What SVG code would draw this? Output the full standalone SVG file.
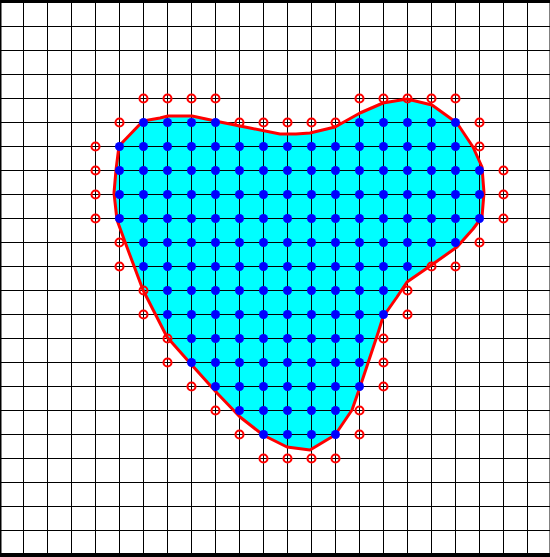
<svg xmlns="http://www.w3.org/2000/svg" width="550" height="557" viewBox="0 0 550 557">
<style>
.grid{stroke:#000;stroke-width:1;fill:none}
.border{stroke:#000;stroke-width:4;fill:none}
.region{fill:#00FFFF;stroke:none}
.curve{fill:none;stroke:#FF0000;stroke-width:3;stroke-linejoin:round}
.in circle{fill:#0000FF;stroke:none}
.out circle{fill:none;stroke:#FF0000;stroke-width:2.1}
</style>
<rect x="0" y="0" width="550" height="557" fill="#fff"/>
<g id="region-fill">
<path class="region" d="M143,121 L160,118 L168,116 L192,116 L220,122 L250,128 L280,134 L296,134 L310,133 L335,127 L360,113 L383,103 L407,99 L432,105 L457,123 L473,147 L482,167 L484,193 L482,217 L473,229 L457,247 L433,264 L407,282 L397,297 L383,317 L378,333 L368,363 L360,387 L352,410 L335,435 L310,450 L287,447 L263,435 L240,417 L217,393 L190,363 L167,337 L143,290 L128,250 L117,220 L114,193 L116,170 L119,146 Z"/>
</g>
<g id="grid">
<path class="grid" d="M23.5 0V557M47.5 0V557M71.5 0V557M95.5 0V557M119.5 0V557M143.5 0V557M167.5 0V557M191.5 0V557M215.5 0V557M239.5 0V557M263.5 0V557M287.5 0V557M311.5 0V557M335.5 0V557M359.5 0V557M383.5 0V557M407.5 0V557M431.5 0V557M455.5 0V557M479.5 0V557M503.5 0V557M527.5 0V557"/>
<path class="grid" d="M0 26.5H550M0 50.5H550M0 74.5H550M0 98.5H550M0 122.5H550M0 146.5H550M0 170.5H550M0 194.5H550M0 218.5H550M0 242.5H550M0 266.5H550M0 290.5H550M0 314.5H550M0 338.5H550M0 362.5H550M0 386.5H550M0 410.5H550M0 434.5H550M0 458.5H550M0 482.5H550M0 506.5H550M0 530.5H550"/>
<rect class="border" x="-0.5" y="1" width="552" height="554"/>
</g>
<g id="boundary-curve">
<path class="curve" d="M143,121 L160,118 L168,116 L192,116 L220,122 L250,128 L280,134 L296,134 L310,133 L335,127 L360,113 L383,103 L407,99 L432,105 L457,123 L473,147 L482,167 L484,193 L482,217 L473,229 L457,247 L433,264 L407,282 L397,297 L383,317 L378,333 L368,363 L360,387 L352,410 L335,435 L310,450 L287,447 L263,435 L240,417 L217,393 L190,363 L167,337 L143,290 L128,250 L117,220 L114,193 L116,170 L119,146 Z"/>
</g>
<g id="interior-points" class="in">
<g transform="translate(0,122.5)"><circle cx="143.5" r="4.5"/><circle cx="167.5" r="4.5"/><circle cx="191.5" r="4.5"/><circle cx="215.5" r="4.5"/><circle cx="359.5" r="4.5"/><circle cx="383.5" r="4.5"/><circle cx="407.5" r="4.5"/><circle cx="431.5" r="4.5"/><circle cx="455.5" r="4.5"/></g>
<g transform="translate(0,146.5)"><circle cx="119.5" r="4.5"/><circle cx="143.5" r="4.5"/><circle cx="167.5" r="4.5"/><circle cx="191.5" r="4.5"/><circle cx="215.5" r="4.5"/><circle cx="239.5" r="4.5"/><circle cx="263.5" r="4.5"/><circle cx="287.5" r="4.5"/><circle cx="311.5" r="4.5"/><circle cx="335.5" r="4.5"/><circle cx="359.5" r="4.5"/><circle cx="383.5" r="4.5"/><circle cx="407.5" r="4.5"/><circle cx="431.5" r="4.5"/><circle cx="455.5" r="4.5"/></g>
<g transform="translate(0,170.5)"><circle cx="119.5" r="4.5"/><circle cx="143.5" r="4.5"/><circle cx="167.5" r="4.5"/><circle cx="191.5" r="4.5"/><circle cx="215.5" r="4.5"/><circle cx="239.5" r="4.5"/><circle cx="263.5" r="4.5"/><circle cx="287.5" r="4.5"/><circle cx="311.5" r="4.5"/><circle cx="335.5" r="4.5"/><circle cx="359.5" r="4.5"/><circle cx="383.5" r="4.5"/><circle cx="407.5" r="4.5"/><circle cx="431.5" r="4.5"/><circle cx="455.5" r="4.5"/><circle cx="479.5" r="4.5"/></g>
<g transform="translate(0,194.5)"><circle cx="119.5" r="4.5"/><circle cx="143.5" r="4.5"/><circle cx="167.5" r="4.5"/><circle cx="191.5" r="4.5"/><circle cx="215.5" r="4.5"/><circle cx="239.5" r="4.5"/><circle cx="263.5" r="4.5"/><circle cx="287.5" r="4.5"/><circle cx="311.5" r="4.5"/><circle cx="335.5" r="4.5"/><circle cx="359.5" r="4.5"/><circle cx="383.5" r="4.5"/><circle cx="407.5" r="4.5"/><circle cx="431.5" r="4.5"/><circle cx="455.5" r="4.5"/><circle cx="479.5" r="4.5"/></g>
<g transform="translate(0,218.5)"><circle cx="119.5" r="4.5"/><circle cx="143.5" r="4.5"/><circle cx="167.5" r="4.5"/><circle cx="191.5" r="4.5"/><circle cx="215.5" r="4.5"/><circle cx="239.5" r="4.5"/><circle cx="263.5" r="4.5"/><circle cx="287.5" r="4.5"/><circle cx="311.5" r="4.5"/><circle cx="335.5" r="4.5"/><circle cx="359.5" r="4.5"/><circle cx="383.5" r="4.5"/><circle cx="407.5" r="4.5"/><circle cx="431.5" r="4.5"/><circle cx="455.5" r="4.5"/><circle cx="479.5" r="4.5"/></g>
<g transform="translate(0,242.5)"><circle cx="143.5" r="4.5"/><circle cx="167.5" r="4.5"/><circle cx="191.5" r="4.5"/><circle cx="215.5" r="4.5"/><circle cx="239.5" r="4.5"/><circle cx="263.5" r="4.5"/><circle cx="287.5" r="4.5"/><circle cx="311.5" r="4.5"/><circle cx="335.5" r="4.5"/><circle cx="359.5" r="4.5"/><circle cx="383.5" r="4.5"/><circle cx="407.5" r="4.5"/><circle cx="431.5" r="4.5"/><circle cx="455.5" r="4.5"/></g>
<g transform="translate(0,266.5)"><circle cx="143.5" r="4.5"/><circle cx="167.5" r="4.5"/><circle cx="191.5" r="4.5"/><circle cx="215.5" r="4.5"/><circle cx="239.5" r="4.5"/><circle cx="263.5" r="4.5"/><circle cx="287.5" r="4.5"/><circle cx="311.5" r="4.5"/><circle cx="335.5" r="4.5"/><circle cx="359.5" r="4.5"/><circle cx="383.5" r="4.5"/><circle cx="407.5" r="4.5"/></g>
<g transform="translate(0,290.5)"><circle cx="167.5" r="4.5"/><circle cx="191.5" r="4.5"/><circle cx="215.5" r="4.5"/><circle cx="239.5" r="4.5"/><circle cx="263.5" r="4.5"/><circle cx="287.5" r="4.5"/><circle cx="311.5" r="4.5"/><circle cx="335.5" r="4.5"/><circle cx="359.5" r="4.5"/><circle cx="383.5" r="4.5"/></g>
<g transform="translate(0,314.5)"><circle cx="167.5" r="4.5"/><circle cx="191.5" r="4.5"/><circle cx="215.5" r="4.5"/><circle cx="239.5" r="4.5"/><circle cx="263.5" r="4.5"/><circle cx="287.5" r="4.5"/><circle cx="311.5" r="4.5"/><circle cx="335.5" r="4.5"/><circle cx="359.5" r="4.5"/><circle cx="383.5" r="4.5"/></g>
<g transform="translate(0,338.5)"><circle cx="191.5" r="4.5"/><circle cx="215.5" r="4.5"/><circle cx="239.5" r="4.5"/><circle cx="263.5" r="4.5"/><circle cx="287.5" r="4.5"/><circle cx="311.5" r="4.5"/><circle cx="335.5" r="4.5"/><circle cx="359.5" r="4.5"/></g>
<g transform="translate(0,362.5)"><circle cx="191.5" r="4.5"/><circle cx="215.5" r="4.5"/><circle cx="239.5" r="4.5"/><circle cx="263.5" r="4.5"/><circle cx="287.5" r="4.5"/><circle cx="311.5" r="4.5"/><circle cx="335.5" r="4.5"/><circle cx="359.5" r="4.5"/></g>
<g transform="translate(0,386.5)"><circle cx="215.5" r="4.5"/><circle cx="239.5" r="4.5"/><circle cx="263.5" r="4.5"/><circle cx="287.5" r="4.5"/><circle cx="311.5" r="4.5"/><circle cx="335.5" r="4.5"/><circle cx="359.5" r="4.5"/></g>
<g transform="translate(0,410.5)"><circle cx="239.5" r="4.5"/><circle cx="263.5" r="4.5"/><circle cx="287.5" r="4.5"/><circle cx="311.5" r="4.5"/><circle cx="335.5" r="4.5"/></g>
<g transform="translate(0,434.5)"><circle cx="263.5" r="4.5"/><circle cx="287.5" r="4.5"/><circle cx="311.5" r="4.5"/><circle cx="335.5" r="4.5"/></g>
</g>
<g id="exterior-points" class="out">
<g transform="translate(0,98.5)"><circle cx="143.5" r="4"/><circle cx="167.5" r="4"/><circle cx="191.5" r="4"/><circle cx="215.5" r="4"/><circle cx="359.5" r="4"/><circle cx="383.5" r="4"/><circle cx="407.5" r="4"/><circle cx="431.5" r="4"/><circle cx="455.5" r="4"/></g>
<g transform="translate(0,122.5)"><circle cx="119.5" r="4"/><circle cx="239.5" r="4"/><circle cx="263.5" r="4"/><circle cx="287.5" r="4"/><circle cx="311.5" r="4"/><circle cx="335.5" r="4"/><circle cx="479.5" r="4"/></g>
<g transform="translate(0,146.5)"><circle cx="95.5" r="4"/><circle cx="479.5" r="4"/></g>
<g transform="translate(0,170.5)"><circle cx="95.5" r="4"/><circle cx="503.5" r="4"/></g>
<g transform="translate(0,194.5)"><circle cx="95.5" r="4"/><circle cx="503.5" r="4"/></g>
<g transform="translate(0,218.5)"><circle cx="95.5" r="4"/><circle cx="503.5" r="4"/></g>
<g transform="translate(0,242.5)"><circle cx="119.5" r="4"/><circle cx="479.5" r="4"/></g>
<g transform="translate(0,266.5)"><circle cx="119.5" r="4"/><circle cx="431.5" r="4"/><circle cx="455.5" r="4"/></g>
<g transform="translate(0,290.5)"><circle cx="143.5" r="4"/><circle cx="407.5" r="4"/></g>
<g transform="translate(0,314.5)"><circle cx="143.5" r="4"/><circle cx="407.5" r="4"/></g>
<g transform="translate(0,338.5)"><circle cx="167.5" r="4"/><circle cx="383.5" r="4"/></g>
<g transform="translate(0,362.5)"><circle cx="167.5" r="4"/><circle cx="383.5" r="4"/></g>
<g transform="translate(0,386.5)"><circle cx="191.5" r="4"/><circle cx="383.5" r="4"/></g>
<g transform="translate(0,410.5)"><circle cx="215.5" r="4"/><circle cx="359.5" r="4"/></g>
<g transform="translate(0,434.5)"><circle cx="239.5" r="4"/><circle cx="359.5" r="4"/></g>
<g transform="translate(0,458.5)"><circle cx="263.5" r="4"/><circle cx="287.5" r="4"/><circle cx="311.5" r="4"/><circle cx="335.5" r="4"/></g>
</g>
</svg>
